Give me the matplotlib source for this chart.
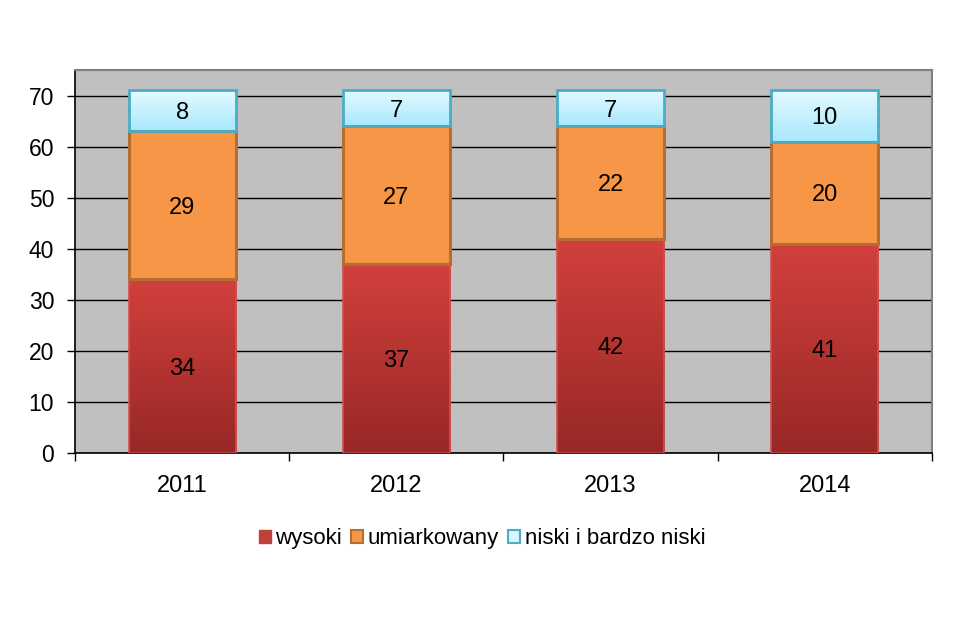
import matplotlib
matplotlib.use("Agg")
import matplotlib.pyplot as plt
from matplotlib.patches import Rectangle
import numpy as np

plt.rcParams['font.family'] = ['Liberation Sans', 'DejaVu Sans']

years = ["2011", "2012", "2013", "2014"]
wysoki = [34, 37, 42, 41]
umiarkowany = [29, 27, 22, 20]
niski = [8, 7, 7, 10]
labels = ["wysoki", "umiarkowany", "niski i bardzo niski"]

fig = plt.figure(figsize=(9.66, 6.23), dpi=100)
ax = fig.add_axes([0.0776, 0.2729, 0.8872, 0.6147])
ax.set_facecolor("#C0C0C0")

x = np.arange(len(years))
w = 0.5

def gradient(top, bottom):
    top = np.array(top) / 255.0
    bottom = np.array(bottom) / 255.0
    t = np.linspace(0, 1, 64)[:, None]
    return (top * (1 - t) + bottom * t)[:, None, :]

red_grad = gradient((210, 64, 60), (152, 40, 38))
blue_grad = gradient((228, 250, 255), (168, 232, 252))

for i in range(len(years)):
    b0 = 0
    b1 = wysoki[i]
    b2 = b1 + umiarkowany[i]
    b3 = b2 + niski[i]
    # red segment with gradient
    ax.imshow(red_grad, extent=(x[i] - w / 2, x[i] + w / 2, b0, b1),
              aspect="auto", zorder=2, interpolation="bilinear")
    ax.add_patch(Rectangle((x[i] - w / 2, b0), w, b1 - b0, fill=False,
                           edgecolor="#D05050", lw=1.2, zorder=3))
    # orange segment
    ax.add_patch(Rectangle((x[i] - w / 2, b1), w, b2 - b1, facecolor="#F79646",
                           edgecolor="#B66D31", lw=2.2, zorder=3))
    # light blue segment with gradient
    ax.imshow(blue_grad, extent=(x[i] - w / 2, x[i] + w / 2, b2, b3),
              aspect="auto", zorder=2, interpolation="bilinear")
    ax.add_patch(Rectangle((x[i] - w / 2, b2), w, b3 - b2, fill=False,
                           edgecolor="#4BACC6", lw=2.0, zorder=4))
    for lo, hi, v in [(b0, b1, wysoki[i]), (b1, b2, umiarkowany[i]), (b2, b3, niski[i])]:
        ax.text(x[i], (lo + hi) / 2, str(v), ha="center", va="center_baseline",
                fontsize=17, color="black", zorder=5)

ax.set_xlim(-0.5, len(years) - 0.5)
ax.set_ylim(0, 75)
ax.set_yticks(range(0, 71, 10))
ax.yaxis.grid(True, color="black", lw=1.0, zorder=1)
ax.set_axisbelow(True)

ax.set_xticks(x)
ax.set_xticklabels(years)
ax.set_xticks(np.arange(-0.5, len(years)), minor=True)
ax.tick_params(axis="x", which="major", length=0, pad=16, labelsize=17)
ax.tick_params(axis="x", which="minor", length=6, width=1, direction="out")
ax.tick_params(axis="y", length=6, width=1, direction="out", pad=9, labelsize=16.5)

for s in ["top", "right"]:
    ax.spines[s].set_color("#808080")
    ax.spines[s].set_linewidth(1.5)
for s in ["left", "bottom"]:
    ax.spines[s].set_color("black")
    ax.spines[s].set_linewidth(1.2)

handles = [
    Rectangle((0, 0), 1, 1, facecolor="#C0403C", edgecolor="#C0403C"),
    Rectangle((0, 0), 1, 1, facecolor="#F79646", edgecolor="#B66D31", lw=1.5),
    Rectangle((0, 0), 1, 1, facecolor="#D8F6FF", edgecolor="#4BACC6", lw=1.5),
]
fig.legend(handles, labels, loc="center", bbox_to_anchor=(0.499, 0.135), ncol=3,
           frameon=False, fontsize=16, handlelength=0.55, handleheight=0.55,
           handletextpad=0.2, columnspacing=0.4)

fig.savefig("out.png", dpi=100)
